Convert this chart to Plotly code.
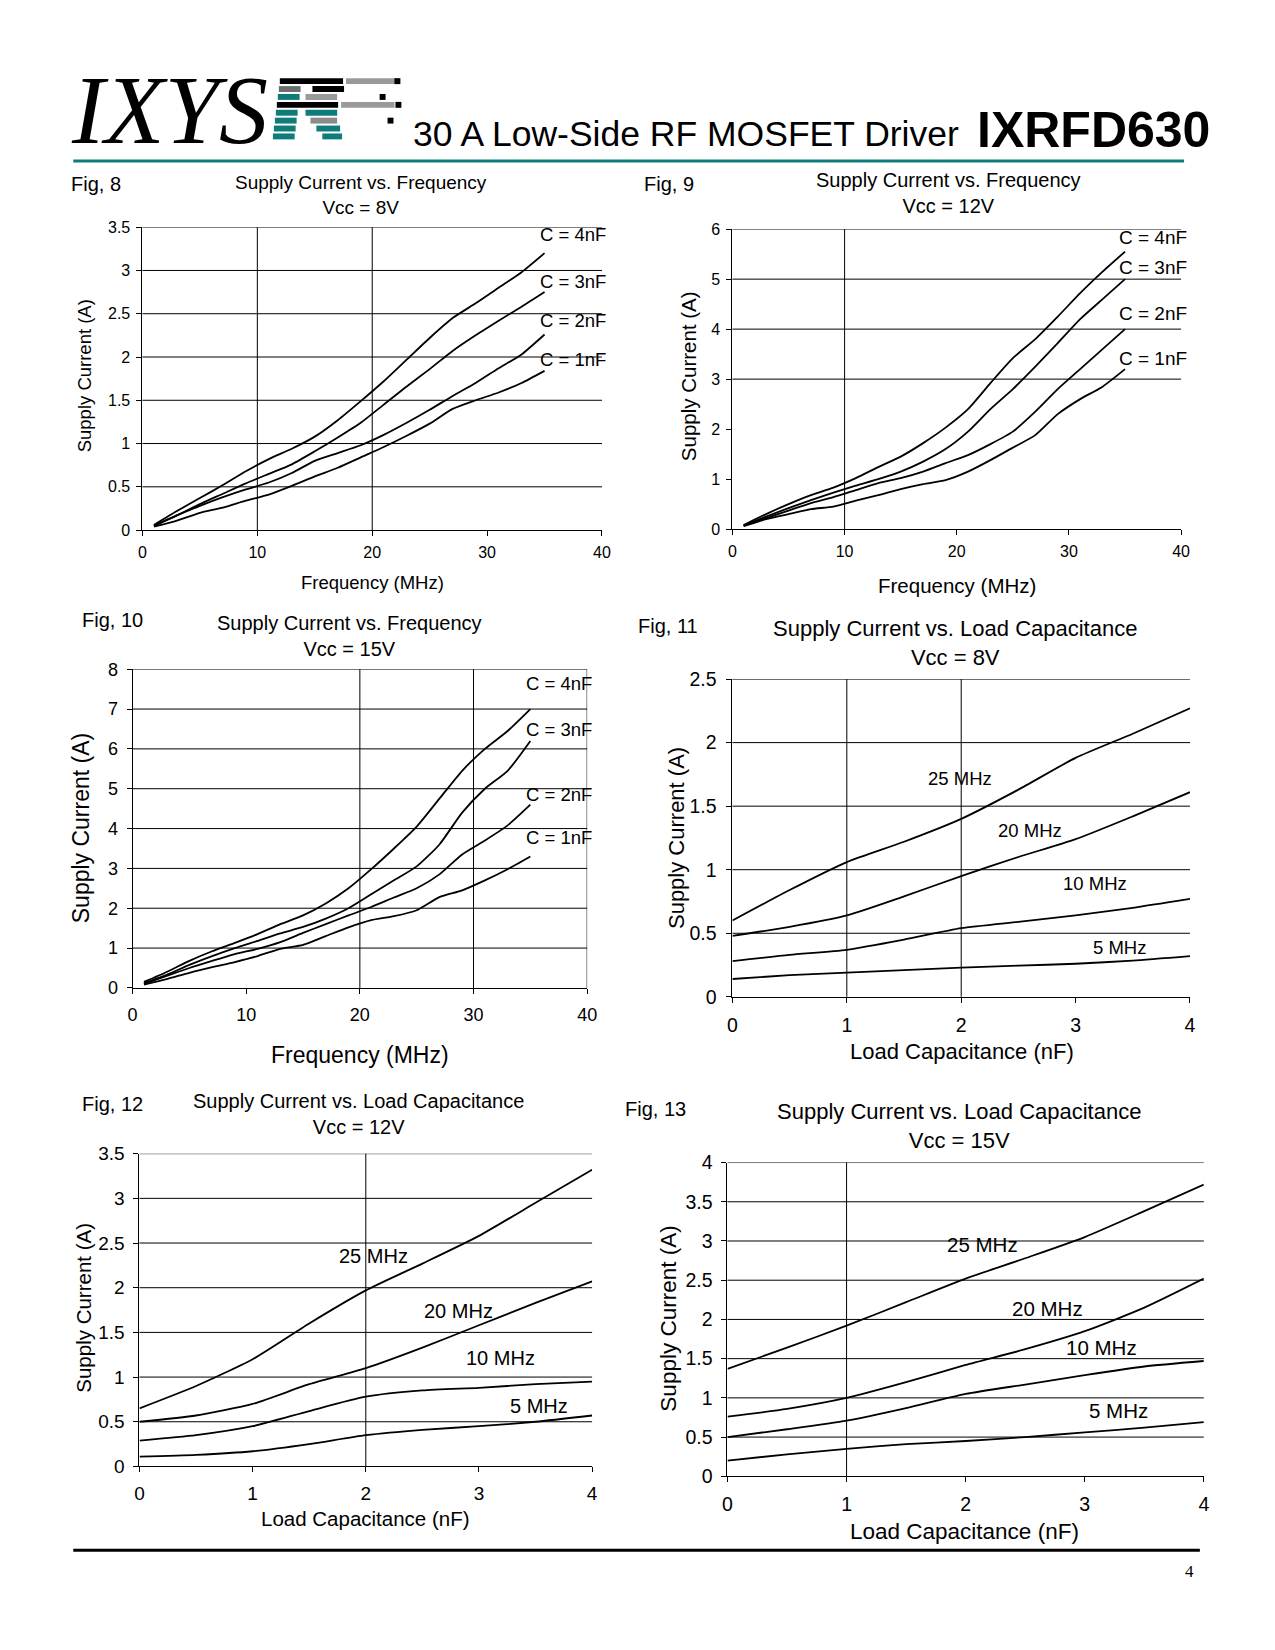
import plotly.graph_objects as go

W, H = 1275, 1650
FONT = "Liberation Sans"

# ---------------- data ----------------
freq_mhz = [1, 3, 5, 7, 9, 11, 13, 15, 17, 19, 21, 23, 25, 27, 29, 31, 33, 35]

fig8_4nF = [0.06, 0.22, 0.37, 0.52, 0.68, 0.82, 0.94, 1.08, 1.27, 1.49, 1.72, 1.97, 2.22, 2.45, 2.62, 2.80, 2.98, 3.20]
fig8_3nF = [0.05, 0.17, 0.30, 0.42, 0.54, 0.65, 0.76, 0.91, 1.07, 1.24, 1.45, 1.66, 1.86, 2.07, 2.25, 2.42, 2.58, 2.75]
fig8_2nF = [0.05, 0.17, 0.28, 0.38, 0.47, 0.55, 0.66, 0.80, 0.89, 0.98, 1.10, 1.24, 1.39, 1.55, 1.70, 1.87, 2.03, 2.26]
fig8_1nF = [0.04, 0.11, 0.20, 0.26, 0.34, 0.41, 0.51, 0.62, 0.72, 0.84, 0.96, 1.09, 1.23, 1.40, 1.50, 1.59, 1.70, 1.84]

fig9_4nF = [0.08, 0.30, 0.50, 0.68, 0.83, 1.02, 1.24, 1.45, 1.72, 2.03, 2.40, 2.92, 3.42, 3.80, 4.25, 4.72, 5.15, 5.55]
fig9_3nF = [0.07, 0.25, 0.42, 0.58, 0.73, 0.87, 1.00, 1.15, 1.35, 1.60, 1.95, 2.40, 2.80, 3.25, 3.72, 4.20, 4.60, 5.00]
fig9_2nF = [0.07, 0.22, 0.37, 0.52, 0.64, 0.78, 0.92, 1.02, 1.15, 1.32, 1.48, 1.70, 1.95, 2.35, 2.80, 3.20, 3.60, 4.00]
fig9_1nF = [0.06, 0.20, 0.30, 0.40, 0.45, 0.57, 0.68, 0.80, 0.90, 0.98, 1.15, 1.38, 1.63, 1.88, 2.30, 2.60, 2.85, 3.20]

fig10_4nF = [0.15, 0.40, 0.68, 0.92, 1.13, 1.35, 1.60, 1.82, 2.12, 2.50, 2.98, 3.50, 4.05, 4.75, 5.45, 6.00, 6.45, 7.00]
fig10_3nF = [0.12, 0.33, 0.58, 0.80, 1.00, 1.18, 1.37, 1.53, 1.74, 2.00, 2.35, 2.70, 3.05, 3.60, 4.40, 5.00, 5.45, 6.20]
fig10_2nF = [0.10, 0.30, 0.50, 0.68, 0.85, 0.98, 1.15, 1.38, 1.60, 1.82, 2.03, 2.27, 2.50, 2.85, 3.35, 3.70, 4.08, 4.60]
fig10_1nF = [0.08, 0.22, 0.38, 0.52, 0.65, 0.80, 0.98, 1.08, 1.30, 1.52, 1.70, 1.80, 1.95, 2.28, 2.45, 2.70, 2.98, 3.30]

cap_nF = [0, 0.5, 1, 1.5, 2, 2.5, 3, 3.5, 4]

fig11_25MHz = [0.60, 0.84, 1.06, 1.22, 1.40, 1.63, 1.88, 2.07, 2.27]
fig11_20MHz = [0.48, 0.55, 0.64, 0.79, 0.95, 1.10, 1.24, 1.42, 1.61]
fig11_10MHz = [0.28, 0.33, 0.37, 0.45, 0.54, 0.59, 0.64, 0.70, 0.77]
fig11_5MHz = [0.14, 0.17, 0.19, 0.21, 0.23, 0.245, 0.26, 0.285, 0.32]

fig12_25MHz = [0.65, 0.90, 1.20, 1.60, 1.97, 2.27, 2.58, 2.95, 3.32]
fig12_20MHz = [0.50, 0.57, 0.70, 0.92, 1.10, 1.33, 1.58, 1.83, 2.07]
fig12_10MHz = [0.29, 0.35, 0.45, 0.62, 0.78, 0.85, 0.88, 0.92, 0.95]
fig12_5MHz = [0.11, 0.13, 0.17, 0.25, 0.35, 0.41, 0.45, 0.50, 0.57]

fig13_25MHz = [1.37, 1.64, 1.92, 2.22, 2.52, 2.78, 3.05, 3.38, 3.72]
fig13_20MHz = [0.76, 0.86, 1.00, 1.20, 1.42, 1.62, 1.85, 2.15, 2.52]
fig13_10MHz = [0.50, 0.60, 0.71, 0.87, 1.05, 1.17, 1.29, 1.40, 1.47]
fig13_5MHz = [0.20, 0.28, 0.35, 0.41, 0.45, 0.50, 0.56, 0.62, 0.69]

cap_labels = ["C = 4nF", "C = 3nF", "C = 2nF", "C = 1nF"]
mhz_labels = ["25 MHz", "20 MHz", "10 MHz", "5 MHz"]

x_freq_ticks = [0, 10, 20, 30, 40]
x_cap_ticks = [0, 1, 2, 3, 4]
y_ticks_35 = [0, 0.5, 1, 1.5, 2, 2.5, 3, 3.5]
y_ticks_6 = [0, 1, 2, 3, 4, 5, 6]
y_ticks_8 = [0, 1, 2, 3, 4, 5, 6, 7, 8]
y_ticks_25 = [0, 0.5, 1, 1.5, 2, 2.5]
y_ticks_4 = [0, 0.5, 1, 1.5, 2, 2.5, 3, 3.5, 4]

# ---------------- panel layout (pixels) ----------------
panels = [
    dict(fig="Fig, 8", title="Supply Current vs. Frequency<br>Vcc = 8V",
         px=(131, 596), py=(211, 518), xr=40, yr=3.5, xt=x_freq_ticks, yt=y_ticks_35,
         x=freq_mhz, ys=[fig8_4nF, fig8_3nF, fig8_2nF, fig8_1nF], labels=cap_labels,
         lab_pos=[(34.4, 3.41), (34.4, 2.87), (34.4, 2.42), (34.4, 1.97)], lab_anchor="left",
         vgrid=[10, 20], hgrid=[0.5, 1, 1.5, 2, 2.5, 3, 3.5],
         xtitle="Frequency (MHz)", ytitle="Supply Current (A)",
         fig_pos=(57, 167), title_pos=(352, 178), xt_pos=(364, 571), yt_pos=(72, 362),
         fs=dict(fig=20, title=19, tick=16, ax=18.5, lab=18.5), stand=3),
    dict(fig="Fig, 9", title="Supply Current vs. Frequency<br>Vcc = 12V",
         px=(728, 1182), py=(213, 517), xr=40, yr=6, xt=x_freq_ticks, yt=y_ticks_6,
         x=freq_mhz, ys=[fig9_4nF, fig9_3nF, fig9_2nF, fig9_1nF], labels=cap_labels,
         lab_pos=[(34.3, 5.83), (34.3, 5.24), (34.3, 4.31), (34.3, 3.41)], lab_anchor="left",
         vgrid=[10], hgrid=[3, 4, 5, 6],
         xtitle="Frequency (MHz)", ytitle="Supply Current (A)",
         fig_pos=(636, 167), title_pos=(947, 176), xt_pos=(955, 574), yt_pos=(683, 362),
         fs=dict(fig=20, title=20, tick=16, ax=20.5, lab=19), stand=3),
    dict(fig="Fig, 10", title="Supply Current vs. Frequency<br>Vcc = 15V",
         px=(121, 581), py=(659, 982), xr=40, yr=8, xt=x_freq_ticks, yt=y_ticks_8,
         x=freq_mhz, ys=[fig10_4nF, fig10_3nF, fig10_2nF, fig10_1nF], labels=cap_labels,
         lab_pos=[(34.4, 7.63), (34.4, 6.48), (34.4, 4.86), (34.4, 3.78)], lab_anchor="left",
         vgrid=[20, 30, 40], hgrid=[1, 2, 3, 4, 5, 6, 7, 8],
         xtitle="Frequency (MHz)", ytitle="Supply Current (A)",
         fig_pos=(68, 609), title_pos=(341, 625), xt_pos=(351, 1050), yt_pos=(69, 820),
         fs=dict(fig=20, title=20, tick=18, ax=23, lab=18.5), stand=5),
    dict(fig="Fig, 11", title="Supply Current vs. Load Capacitance<br>Vcc = 8V",
         px=(728, 1191), py=(669, 991), xr=4, yr=2.5, xt=x_cap_ticks, yt=y_ticks_25,
         x=cap_nF, ys=[fig11_25MHz, fig11_20MHz, fig11_10MHz, fig11_5MHz], labels=mhz_labels,
         lab_pos=[(1.99, 1.72), (2.6, 1.31), (3.17, 0.89), (3.38, 0.39)], lab_anchor="center",
         vgrid=[1, 2], hgrid=[0.5, 1, 1.5, 2, 2.5],
         xtitle="Load Capacitance (nF)", ytitle="Supply Current (A)",
         fig_pos=(630, 615), title_pos=(953, 632), xt_pos=(960, 1046), yt_pos=(672, 830),
         fs=dict(fig=20, title=22, tick=19.5, ax=22, lab=18.5), stand=6),
    dict(fig="Fig, 12", title="Supply Current vs. Load Capacitance<br>Vcc = 12V",
         px=(128, 586), py=(1150, 1467), xr=4, yr=3.5, xt=x_cap_ticks, yt=y_ticks_35,
         x=cap_nF, ys=[fig12_25MHz, fig12_20MHz, fig12_10MHz, fig12_5MHz], labels=mhz_labels,
         lab_pos=[(2.07, 2.35), (2.82, 1.74), (3.19, 1.21), (3.53, 0.68)], lab_anchor="center",
         vgrid=[2], hgrid=[0.5, 1, 1.5, 2, 2.5, 3, 3.5],
         xtitle="Load Capacitance (nF)", ytitle="Supply Current (A)",
         fig_pos=(68, 1100), title_pos=(350, 1110), xt_pos=(357, 1520), yt_pos=(71, 1306),
         fs=dict(fig=20, title=20, tick=19, ax=20.5, lab=20), stand=5),
    dict(fig="Fig, 13", title="Supply Current vs. Load Capacitance<br>Vcc = 15V",
         px=(723, 1205), py=(1159, 1477), xr=4, yr=4, xt=x_cap_ticks, yt=y_ticks_4,
         x=cap_nF, ys=[fig13_25MHz, fig13_20MHz, fig13_10MHz, fig13_5MHz], labels=mhz_labels,
         lab_pos=[(2.14, 2.95), (2.69, 2.14), (3.14, 1.64), (3.28, 0.84)], lab_anchor="center",
         vgrid=[1], hgrid=[0.5, 1, 1.5, 2, 2.5, 3, 3.5, 4],
         xtitle="Load Capacitance (nF)", ytitle="Supply Current (A)",
         fig_pos=(617, 1105), title_pos=(957, 1122), xt_pos=(963, 1533), yt_pos=(663, 1317),
         fs=dict(fig=20, title=22, tick=19.5, ax=22.5, lab=20.5), stand=5),
]


def fmt(v):
    return ("%g" % v)


def px_x(p):
    return p / W


def px_y(p):
    return 1 - p / H


fig = go.Figure()
shapes = []
annotations = []
layout_axes = {}

for i, p in enumerate(panels, start=1):
    xa = "x" if i == 1 else f"x{i}"
    ya = "y" if i == 1 else f"y{i}"
    xkey = "xaxis" if i == 1 else f"xaxis{i}"
    ykey = "yaxis" if i == 1 else f"yaxis{i}"
    fs = p["fs"]

    for ys in p["ys"]:
        fig.add_trace(go.Scatter(x=p["x"], y=ys, mode="lines", xaxis=xa, yaxis=ya,
                                 line=dict(color="black", width=1.8, shape="spline", smoothing=0.6),
                                 hoverinfo="skip", showlegend=False))

    common = dict(showgrid=False, zeroline=False, showline=True, linecolor="black", linewidth=1,
                  ticks="outside", ticklen=5, tickcolor="black", tickwidth=1,
                  ticklabelstandoff=p["stand"],
                  tickfont=dict(family=FONT, size=fs["tick"], color="black"), fixedrange=True)
    layout_axes[xkey] = dict(domain=[px_x(p["px"][0]), px_x(p["px"][1])], range=[0, p["xr"]],
                             anchor=ya, tickmode="array", tickvals=p["xt"],
                             ticktext=[fmt(v) for v in p["xt"]], **common)
    layout_axes[ykey] = dict(domain=[px_y(p["py"][1]), px_y(p["py"][0])], range=[0, p["yr"]],
                             anchor=xa, tickmode="array", tickvals=p["yt"],
                             ticktext=[fmt(v) for v in p["yt"]], **common)

    for v in p["hgrid"]:
        shapes.append(dict(type="line", xref=f"{xa} domain", x0=0, x1=1, yref=ya, y0=v, y1=v,
                           line=dict(color="black", width=1), layer="below"))
    for v in p["vgrid"]:
        shapes.append(dict(type="line", xref=xa, x0=v, x1=v, yref=f"{ya} domain", y0=0, y1=1,
                           line=dict(color="black", width=1), layer="below"))

    for txt, (lx, ly) in zip(p["labels"], p["lab_pos"]):
        annotations.append(dict(text=txt, x=lx, y=ly, xref=xa, yref=ya, showarrow=False,
                                xanchor=p["lab_anchor"], yanchor="middle",
                                font=dict(family=FONT, size=fs["lab"], color="black")))

    annotations.append(dict(text=p["fig"], x=px_x(p["fig_pos"][0]), y=px_y(p["fig_pos"][1]),
                            xref="paper", yref="paper", showarrow=False, xanchor="left",
                            yanchor="middle", font=dict(family=FONT, size=fs["fig"], color="black")))
    annotations.append(dict(text=p["title"], x=px_x(p["title_pos"][0]), y=px_y(p["title_pos"][1]),
                            xref="paper", yref="paper", showarrow=False, xanchor="center",
                            yanchor="middle", align="center",
                            font=dict(family=FONT, size=fs["title"], color="black")))
    annotations.append(dict(text=p["xtitle"], x=px_x(p["xt_pos"][0]), y=px_y(p["xt_pos"][1]),
                            xref="paper", yref="paper", showarrow=False, xanchor="center",
                            yanchor="middle", font=dict(family=FONT, size=fs["ax"], color="black")))
    annotations.append(dict(text=p["ytitle"], x=px_x(p["yt_pos"][0]), y=px_y(p["yt_pos"][1]),
                            xref="paper", yref="paper", showarrow=False, xanchor="center",
                            yanchor="middle", textangle=-90,
                            font=dict(family=FONT, size=fs["ax"], color="black")))

# ---------------- page header / footer ----------------
TEAL = "#0E7C78"
shapes.append(dict(type="line", xref="paper", yref="paper", x0=px_x(61), x1=px_x(1185),
                   y0=px_y(144), y1=px_y(144), line=dict(color=TEAL, width=3)))
shapes.append(dict(type="line", xref="paper", yref="paper", x0=px_x(61), x1=px_x(1201),
                   y0=px_y(1552), y1=px_y(1552), line=dict(color="black", width=3)))

# striped "RF" logo block (decorative)
rf_rows = [
    # (top_y, left_x, left_w, left_color, right_x, right_w, right_color)
    (60, 270, 64, "black", 337, 52, "#9a9a9a"),
    (68, 269, 22, "#6e6e6e", 303, 32, "black"),
    (76, 268, 22, TEAL, 296, 32, "#9a9a9a"),
    (84, 267, 62, "black", 332, 54, "#9a9a9a"),
    (92, 266, 22, TEAL, 296, 32, TEAL),
    (100, 265, 22, TEAL, 301, 27, "#8a8a8a"),
    (108, 264, 22, TEAL, 307, 24, TEAL),
    (116, 263, 22, TEAL, 313, 20, TEAL),
]
for (ty, lx, lw, lc, rx, rw, rc) in rf_rows:
    shapes.append(dict(type="rect", xref="paper", yref="paper", x0=px_x(lx), x1=px_x(lx + lw),
                       y0=px_y(ty + 6), y1=px_y(ty), fillcolor=lc, line=dict(width=0)))
    shapes.append(dict(type="rect", xref="paper", yref="paper", x0=px_x(rx), x1=px_x(rx + rw),
                       y0=px_y(ty + 6), y1=px_y(ty), fillcolor=rc, line=dict(width=0)))
for (ty, ex) in [(60, 392), (76, 377), (84, 393), (100, 385)]:
    shapes.append(dict(type="rect", xref="paper", yref="paper", x0=px_x(ex - 6), x1=px_x(ex),
                       y0=px_y(ty + 6), y1=px_y(ty), fillcolor="black", line=dict(width=0)))

annotations.append(dict(text="<i>IXYS</i>", x=px_x(57), y=px_y(92), xref="paper", yref="paper",
                        showarrow=False, xanchor="left", yanchor="middle",
                        font=dict(family="Liberation Serif", size=98, color="black")))
annotations.append(dict(text="30 A Low-Side RF MOSFET Driver", x=px_x(403), y=px_y(117),
                        xref="paper", yref="paper", showarrow=False, xanchor="left", yanchor="middle",
                        font=dict(family=FONT, size=35.5, color="black")))
annotations.append(dict(text="<b>IXRFD630</b>", x=px_x(1213), y=px_y(113), xref="paper", yref="paper",
                        showarrow=False, xanchor="right", yanchor="middle",
                        font=dict(family=FONT, size=50, color="black")))
annotations.append(dict(text="4", x=px_x(1190), y=px_y(1573), xref="paper", yref="paper",
                        showarrow=False, xanchor="center", yanchor="middle",
                        font=dict(family="Liberation Serif", size=17, color="black")))

fig.update_layout(width=W, height=H, margin=dict(l=0, r=0, t=0, b=0),
                  paper_bgcolor="white", plot_bgcolor="white", showlegend=False,
                  shapes=shapes, annotations=annotations, **layout_axes)

fig.write_html("out.html")
